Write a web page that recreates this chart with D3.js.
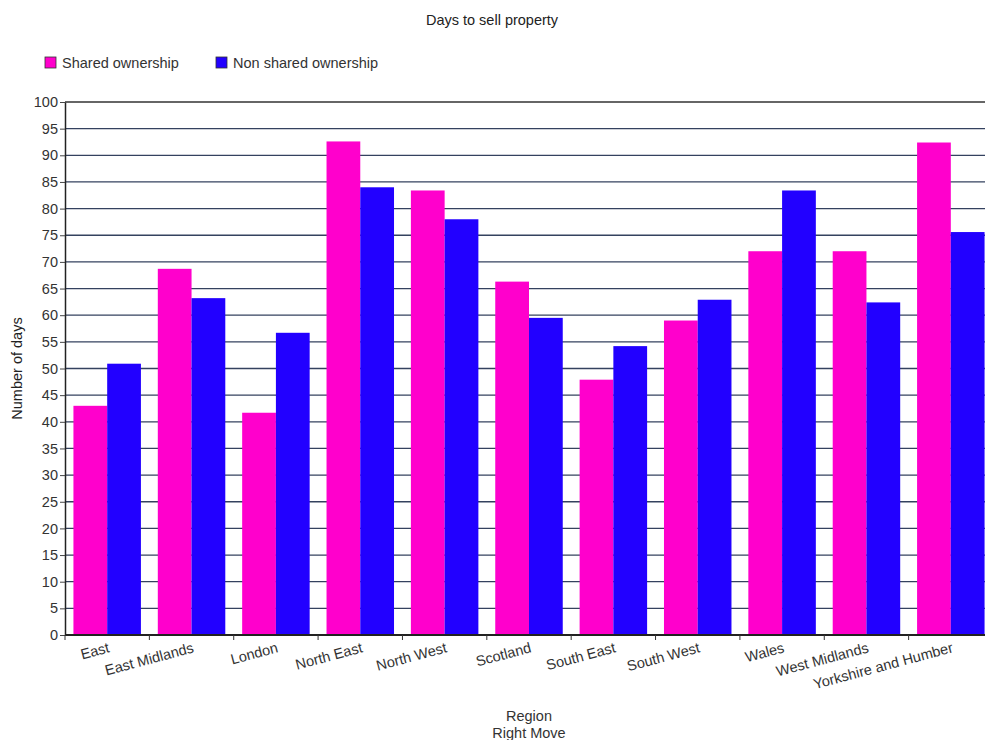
<!DOCTYPE html>
<html><head><meta charset="utf-8">
<script src="https://cdn.jsdelivr.net/npm/d3@7"></script>
<style>body{margin:0;background:#fff;overflow:hidden}svg{display:block;font-family:"Liberation Sans",Arial,sans-serif}</style>
</head><body>
<svg id="c" width="985" height="740"></svg>
<script>
const categories = ["East","East Midlands","London","North East","North West","Scotland","South East","South West","Wales","West Midlands","Yorkshire and Humber"];
const seriesNames = ["Shared ownership","Non shared ownership"];
const sharedValues = [43.0,68.7,41.7,92.6,83.4,66.3,47.9,59.0,72.0,72.0,92.4];
const nonSharedValues = [50.9,63.2,56.7,84.0,78.0,59.5,54.2,62.9,83.4,62.4,75.6];
const yTicks = d3.range(0,101,5);
const colors = ["#ff00cc","#2200ff"];

(function(){
const svg = d3.select("#c");
const pL = 65, pR = 993, pT = 102, pB = 635;
const fs = 14.5;
const x = d3.scaleBand().domain(categories).range([pL,pR]).paddingInner(0.2).paddingOuter(0.1);
const xs = d3.scaleBand().domain(seriesNames).range([0,x.bandwidth()]);
const y = d3.scaleLinear().domain([0,100]).range([pB,pT]);

svg.append("g").selectAll("line").data(yTicks.filter(t=>t>0)).join("line")
  .attr("x1",pL).attr("x2",985).attr("y1",d=>y(d)).attr("y2",d=>y(d))
  .attr("stroke",d=>d===100?"#333":"#34425f").attr("stroke-width",1.3);

const rows = categories.map((c,i)=>({c,vals:[sharedValues[i],nonSharedValues[i]]}));
svg.append("g").selectAll("g").data(rows).join("g")
  .attr("transform",d=>`translate(${x(d.c)},0)`)
  .selectAll("rect").data(d=>d.vals.map((v,k)=>({v,k}))).join("rect")
  .attr("x",d=>xs(seriesNames[d.k])).attr("width",xs.bandwidth())
  .attr("y",d=>y(d.v)).attr("height",d=>pB-y(d.v))
  .attr("fill",d=>colors[d.k]);

const ya = svg.append("g").attr("transform",`translate(${pL},0)`)
  .call(d3.axisLeft(y).tickValues(yTicks).tickSize(5).tickSizeOuter(0));
ya.select(".domain").attr("stroke","#222").attr("stroke-width",1.5);
ya.selectAll(".tick line").attr("stroke","#444");
ya.selectAll("text").attr("font-size",fs).attr("fill","#333").attr("x",-7);

const bounds = d3.range(0,categories.length+1).map(i=>pL+i*(pR-pL)/categories.length);
const xa = svg.append("g");
xa.append("line").attr("x1",pL).attr("x2",985).attr("y1",pB).attr("y2",pB).attr("stroke","#222").attr("stroke-width",2);
xa.selectAll("line.t").data(bounds).join("line").attr("class","t")
  .attr("x1",d=>d).attr("x2",d=>d).attr("y1",pB).attr("y2",pB+5).attr("stroke","#333");
xa.selectAll("text").data(categories).join("text")
  .attr("text-anchor","end").attr("font-size",fs).attr("fill","#333")
  .attr("transform",d=>`translate(${x(d)+x.bandwidth()/2+3},${pB+17}) rotate(-15)`)
  .text(d=>d);

svg.append("text").attr("x",492).attr("y",25).attr("text-anchor","middle").attr("font-size",fs).attr("fill","#222").text("Days to sell property");
svg.append("text").attr("x",(pL+pR)/2).attr("y",721).attr("text-anchor","middle").attr("font-size",fs).attr("fill","#333").text("Region");
svg.append("text").attr("x",(pL+pR)/2).attr("y",738).attr("text-anchor","middle").attr("font-size",fs).attr("fill","#333").text("Right Move");
svg.append("text").attr("transform",`translate(22,${(pT+pB)/2}) rotate(-90)`).attr("text-anchor","middle").attr("font-size",fs).attr("fill","#222").text("Number of days");

const legX = [45,216];
const lg = svg.append("g").selectAll("g").data(seriesNames).join("g").attr("transform",(d,i)=>`translate(${legX[i]},57)`);
lg.append("rect").attr("width",11).attr("height",11).attr("fill",(d,i)=>colors[i]).attr("stroke","#333").attr("stroke-width",0.8);
lg.append("text").attr("x",17).attr("y",11).attr("font-size",fs).attr("fill","#333").text(d=>d);
})();
</script>
</body></html>
